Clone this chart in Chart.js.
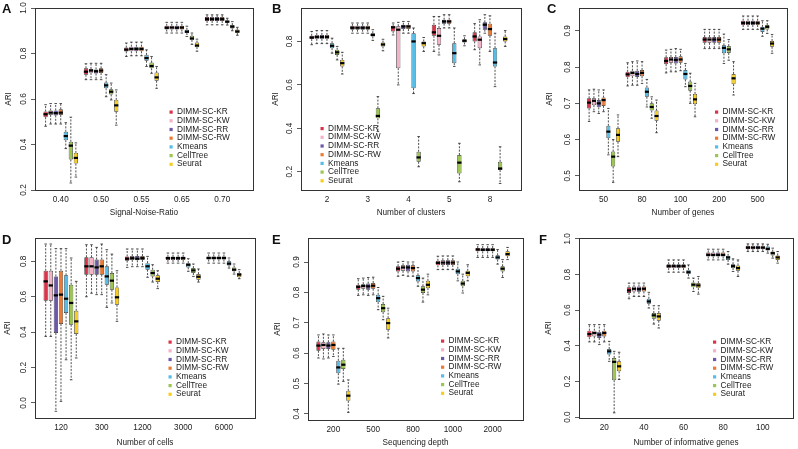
<!DOCTYPE html>
<html>
<head>
<meta charset="utf-8">
<script src="https://cdn.jsdelivr.net/npm/chart.js@4.4.0/dist/chart.umd.min.js"></script>
<style>
  html, body { margin: 0; padding: 0; background: #fff; }
  body { width: 798px; height: 449px; position: relative; overflow: hidden; }
  .cell { position: absolute; }
  .tag { position: absolute; font: bold 13px "Liberation Sans", Arial, sans-serif; color: #111; line-height: 13px; }
</style>
</head>
<body>
<div class="cell" style="left:0;top:0;width:265px;height:225px"><canvas id="cA"></canvas></div>
<div class="cell" style="left:265px;top:0;width:265px;height:225px"><canvas id="cB"></canvas></div>
<div class="cell" style="left:530px;top:0;width:268px;height:225px"><canvas id="cC"></canvas></div>
<div class="cell" style="left:0;top:225px;width:265px;height:224px"><canvas id="cD"></canvas></div>
<div class="cell" style="left:265px;top:225px;width:265px;height:224px"><canvas id="cE"></canvas></div>
<div class="cell" style="left:530px;top:225px;width:268px;height:224px"><canvas id="cF"></canvas></div>
<div class="tag" style="left:2px;top:2px">A</div>
<div class="tag" style="left:272px;top:2px">B</div>
<div class="tag" style="left:547px;top:2px">C</div>
<div class="tag" style="left:2px;top:233px">D</div>
<div class="tag" style="left:272px;top:233px">E</div>
<div class="tag" style="left:539px;top:233px">F</div>
<script>
// methods (one box per method inside each group)
const methods = ['DIMM-SC-KR', 'DIMM-SC-KW', 'DIMM-SC-RR', 'DIMM-SC-RW', 'Kmeans', 'CellTree', 'Seurat'];

// group labels per panel
const snrLabels = ['0.40', '0.50', '0.55', '0.65', '0.70'];
const clusterLabels = ['2', '3', '4', '5', '8'];
const geneLabels = ['50', '80', '100', '200', '500'];
const cellLabels = ['120', '300', '1200', '3000', '6000'];
const depthLabels = ['200', '500', '800', '1000', '2000'];
const infoLabels = ['20', '40', '60', '80', '100'];

// y tick values per panel
const snrTicks = [0.2, 0.4, 0.6, 0.8, 1.0];
const clusterTicks = [0.2, 0.4, 0.6, 0.8];
const geneTicks = [0.5, 0.6, 0.7, 0.8, 0.9];
const cellTicks = [0.0, 0.2, 0.4, 0.6, 0.8];
const depthTicks = [0.4, 0.5, 0.6, 0.7, 0.8, 0.9];
const infoTicks = [0.0, 0.2, 0.4, 0.6, 0.8, 1.0];

// box stats: one row per method, one [min, q1, median, q3, max] per group
const snrStats = [
  [[0.48,0.52,0.533,0.545,0.575],[0.685,0.707,0.72,0.735,0.755],[0.787,0.809,0.817,0.826,0.846],[0.89,0.905,0.913,0.922,0.937],[0.926,0.943,0.951,0.96,0.97]],
  [[0.49,0.53,0.54,0.55,0.58],[0.685,0.715,0.725,0.732,0.757],[0.79,0.81,0.82,0.83,0.85],[0.89,0.905,0.914,0.922,0.937],[0.926,0.943,0.951,0.96,0.97]],
  [[0.49,0.528,0.538,0.55,0.58],[0.685,0.712,0.722,0.73,0.757],[0.79,0.81,0.82,0.83,0.85],[0.89,0.905,0.913,0.922,0.937],[0.926,0.943,0.951,0.96,0.97]],
  [[0.49,0.53,0.54,0.555,0.58],[0.685,0.714,0.725,0.735,0.757],[0.79,0.81,0.82,0.83,0.85],[0.89,0.905,0.914,0.922,0.937],[0.926,0.943,0.951,0.96,0.97]],
  [[0.382,0.419,0.437,0.456,0.496],[0.61,0.647,0.66,0.672,0.707],[0.743,0.768,0.78,0.794,0.816],[0.875,0.89,0.896,0.904,0.92],[0.925,0.935,0.94,0.945,0.955]],
  [[0.231,0.334,0.395,0.412,0.52],[0.596,0.62,0.632,0.643,0.67],[0.713,0.735,0.745,0.76,0.787],[0.84,0.86,0.866,0.878,0.89],[0.9,0.91,0.918,0.925,0.94]],
  [[0.257,0.316,0.341,0.363,0.407],[0.485,0.544,0.572,0.596,0.64],[0.647,0.68,0.695,0.716,0.743],[0.81,0.828,0.835,0.848,0.863],[0.88,0.89,0.897,0.905,0.915]]
];
const clusterStats = [
  [[0.785,0.811,0.818,0.826,0.846],[0.838,0.854,0.863,0.872,0.885],[0.83,0.846,0.865,0.872,0.885],[0.754,0.826,0.842,0.877,0.915],[0.762,0.8,0.823,0.842,0.882]],
  [[0.79,0.812,0.82,0.83,0.85],[0.838,0.854,0.863,0.872,0.885],[0.6,0.677,0.854,0.87,0.888],[0.738,0.785,0.826,0.862,0.915],[0.692,0.769,0.808,0.823,0.9]],
  [[0.79,0.812,0.82,0.83,0.85],[0.838,0.854,0.863,0.872,0.885],[0.838,0.857,0.869,0.877,0.892],[0.862,0.882,0.892,0.9,0.923],[0.838,0.854,0.877,0.888,0.923]],
  [[0.79,0.812,0.82,0.83,0.85],[0.838,0.854,0.863,0.872,0.885],[0.838,0.857,0.869,0.877,0.892],[0.862,0.882,0.892,0.9,0.923],[0.754,0.826,0.857,0.882,0.918]],
  [[0.746,0.769,0.78,0.792,0.815],[0.805,0.823,0.83,0.838,0.854],[0.56,0.585,0.8,0.838,0.862],[0.685,0.7,0.746,0.792,0.862],[0.592,0.685,0.703,0.769,0.838]],
  [[0.715,0.738,0.75,0.762,0.777],[0.385,0.446,0.457,0.492,0.546],[0.223,0.246,0.266,0.292,0.362],[0.154,0.192,0.242,0.277,0.331],[0.146,0.208,0.215,0.246,0.315]],
  [[0.65,0.685,0.7,0.715,0.75],[0.757,0.777,0.786,0.795,0.81],[0.754,0.777,0.792,0.8,0.818],[0.78,0.795,0.803,0.81,0.826],[0.777,0.8,0.811,0.823,0.85]]
];
const geneStats = [
  [[0.65,0.686,0.702,0.714,0.737],[0.748,0.772,0.78,0.787,0.812],[0.784,0.808,0.817,0.827,0.847],[0.851,0.867,0.876,0.883,0.904],[0.904,0.916,0.922,0.928,0.941]],
  [[0.677,0.695,0.707,0.714,0.739],[0.75,0.775,0.784,0.79,0.815],[0.787,0.812,0.821,0.828,0.849],[0.851,0.867,0.876,0.883,0.904],[0.904,0.916,0.922,0.928,0.941]],
  [[0.672,0.689,0.7,0.709,0.737],[0.75,0.773,0.781,0.79,0.817],[0.787,0.81,0.82,0.828,0.851],[0.851,0.867,0.876,0.883,0.904],[0.904,0.916,0.922,0.928,0.941]],
  [[0.677,0.693,0.709,0.716,0.737],[0.755,0.775,0.784,0.792,0.815],[0.79,0.812,0.821,0.83,0.849],[0.851,0.867,0.876,0.883,0.904],[0.904,0.916,0.922,0.928,0.941]],
  [[0.558,0.604,0.622,0.638,0.686],[0.69,0.718,0.732,0.744,0.766],[0.746,0.766,0.781,0.792,0.81],[0.81,0.838,0.853,0.86,0.891],[0.885,0.897,0.906,0.911,0.928]],
  [[0.482,0.526,0.553,0.567,0.6],[0.659,0.68,0.69,0.7,0.718],[0.7,0.735,0.748,0.76,0.783],[0.819,0.839,0.849,0.858,0.876],[0.893,0.904,0.911,0.916,0.928]],
  [[0.553,0.594,0.613,0.631,0.668],[0.619,0.652,0.665,0.68,0.709],[0.663,0.698,0.711,0.726,0.755],[0.723,0.753,0.769,0.781,0.815],[0.838,0.856,0.865,0.872,0.89]]
];
const cellStats = [
  [[0.376,0.578,0.687,0.747,0.898],[0.6,0.725,0.772,0.823,0.894],[0.766,0.804,0.815,0.828,0.87],[0.79,0.808,0.819,0.826,0.847],[0.79,0.81,0.819,0.828,0.847]],
  [[0.376,0.578,0.664,0.747,0.898],[0.62,0.725,0.772,0.823,0.894],[0.77,0.808,0.818,0.83,0.87],[0.79,0.808,0.819,0.826,0.847],[0.79,0.81,0.819,0.828,0.847]],
  [[-0.047,0.395,0.608,0.715,0.872],[0.612,0.725,0.766,0.81,0.879],[0.77,0.806,0.815,0.83,0.87],[0.79,0.808,0.819,0.826,0.847],[0.79,0.81,0.819,0.828,0.847]],
  [[0.009,0.446,0.612,0.747,0.872],[0.612,0.725,0.772,0.81,0.898],[0.77,0.808,0.818,0.83,0.87],[0.79,0.808,0.819,0.826,0.847],[0.79,0.81,0.819,0.828,0.847]],
  [[0.244,0.508,0.589,0.721,0.872],[0.54,0.668,0.715,0.772,0.866],[0.71,0.753,0.772,0.79,0.828],[0.744,0.766,0.781,0.79,0.815],[0.762,0.777,0.787,0.8,0.819]],
  [[0.131,0.442,0.565,0.668,0.819],[0.565,0.64,0.691,0.734,0.841],[0.683,0.715,0.734,0.753,0.781],[0.715,0.734,0.749,0.762,0.785],[0.728,0.744,0.753,0.766,0.785]],
  [[0.254,0.39,0.461,0.521,0.687],[0.461,0.555,0.597,0.653,0.747],[0.646,0.683,0.702,0.721,0.747],[0.683,0.696,0.713,0.728,0.757],[0.702,0.711,0.725,0.734,0.753]]
];
const depthStats = [
  [[0.584,0.608,0.625,0.638,0.66],[0.79,0.809,0.818,0.825,0.845],[0.853,0.869,0.878,0.886,0.9],[0.875,0.889,0.897,0.904,0.919],[0.915,0.935,0.941,0.946,0.957]],
  [[0.581,0.614,0.627,0.636,0.663],[0.792,0.812,0.821,0.827,0.847],[0.856,0.871,0.882,0.889,0.902],[0.875,0.89,0.898,0.906,0.92],[0.915,0.935,0.94,0.946,0.957]],
  [[0.584,0.614,0.625,0.636,0.66],[0.79,0.809,0.82,0.829,0.849],[0.853,0.869,0.882,0.891,0.9],[0.875,0.89,0.898,0.906,0.92],[0.915,0.935,0.94,0.946,0.957]],
  [[0.589,0.611,0.627,0.638,0.66],[0.792,0.812,0.822,0.831,0.85],[0.853,0.869,0.88,0.889,0.9],[0.875,0.89,0.898,0.906,0.92],[0.915,0.935,0.94,0.946,0.957]],
  [[0.498,0.534,0.553,0.575,0.616],[0.743,0.768,0.781,0.792,0.816],[0.82,0.836,0.847,0.856,0.882],[0.838,0.86,0.869,0.878,0.9],[0.893,0.908,0.915,0.922,0.941]],
  [[0.507,0.548,0.562,0.578,0.616],[0.71,0.735,0.748,0.762,0.787],[0.768,0.798,0.809,0.82,0.847],[0.798,0.82,0.829,0.838,0.86],[0.849,0.869,0.878,0.886,0.908]],
  [[0.405,0.443,0.46,0.476,0.512],[0.65,0.677,0.699,0.715,0.748],[0.792,0.814,0.825,0.838,0.86],[0.838,0.853,0.864,0.871,0.891],[0.908,0.919,0.926,0.935,0.948]]
];
const infoStats = [
  [[0.422,0.448,0.466,0.485,0.519],[0.664,0.696,0.711,0.729,0.752],[0.813,0.836,0.847,0.858,0.882],[0.882,0.901,0.91,0.924,0.942],[0.929,0.942,0.951,0.961,0.972]],
  [[0.422,0.453,0.472,0.485,0.519],[0.677,0.705,0.72,0.733,0.752],[0.813,0.836,0.847,0.858,0.882],[0.882,0.901,0.91,0.924,0.942],[0.929,0.942,0.951,0.961,0.972]],
  [[0.407,0.444,0.463,0.478,0.519],[0.677,0.703,0.718,0.733,0.752],[0.813,0.836,0.847,0.858,0.882],[0.882,0.901,0.91,0.924,0.942],[0.929,0.942,0.951,0.961,0.972]],
  [[0.422,0.453,0.472,0.485,0.519],[0.677,0.705,0.72,0.733,0.752],[0.813,0.836,0.847,0.858,0.882],[0.882,0.901,0.91,0.924,0.942],[0.929,0.942,0.951,0.961,0.972]],
  [[0.313,0.351,0.369,0.382,0.425],[0.612,0.636,0.649,0.664,0.7],[0.78,0.802,0.813,0.826,0.854],[0.858,0.882,0.896,0.905,0.929],[0.92,0.935,0.944,0.957,0.97]],
  [[0.024,0.207,0.31,0.332,0.369],[0.522,0.552,0.571,0.584,0.625],[0.705,0.728,0.743,0.756,0.78],[0.817,0.836,0.847,0.858,0.888],[0.892,0.907,0.92,0.929,0.948]],
  [[0.211,0.257,0.285,0.313,0.364],[0.5,0.541,0.565,0.584,0.625],[0.69,0.724,0.739,0.752,0.789],[0.789,0.821,0.836,0.851,0.882],[0.864,0.882,0.896,0.907,0.929]]
];

const methodColors = ['#dc3349', '#f4b2c6', '#6c58a8', '#ec7a33', '#55bde8', '#9cc650', '#f9cd1e'];

Chart.defaults.font.family = '"Liberation Sans", Arial, sans-serif';
Chart.defaults.font.size = 8.2;
Chart.defaults.color = '#222';

// whiskers, staples and medians on top of the floating bars
const boxPlugin = {
  id: 'boxWhiskers',
  afterDatasetsDraw(chart) {
    const { ctx, scales: { y } } = chart;
    ctx.save();
    chart.data.datasets.forEach((ds, di) => {
      const meta = chart.getDatasetMeta(di);
      meta.data.forEach((bar, i) => {
        const s = ds.stats[i];
        const x = bar.x, w = bar.width;
        const py = v => y.getPixelForValue(v);
        ctx.strokeStyle = '#222';
        ctx.lineWidth = 0.8;
        ctx.setLineDash([2, 1.4]);
        ctx.beginPath();
        ctx.moveTo(x, py(s[3])); ctx.lineTo(x, py(s[4]));
        ctx.moveTo(x, py(s[1])); ctx.lineTo(x, py(s[0]));
        ctx.stroke();
        ctx.setLineDash([]);
        ctx.beginPath();
        ctx.moveTo(x - w * 0.3, py(s[4])); ctx.lineTo(x + w * 0.3, py(s[4]));
        ctx.moveTo(x - w * 0.3, py(s[0])); ctx.lineTo(x + w * 0.3, py(s[0]));
        ctx.stroke();
        ctx.strokeStyle = '#000';
        ctx.lineWidth = 2.2;
        ctx.beginPath();
        ctx.moveTo(x - w / 2, py(s[2])); ctx.lineTo(x + w / 2, py(s[2]));
        ctx.stroke();
      });
    });
    ctx.restore();
  }
};

// box frame around the plot region
const framePlugin = {
  id: 'frame',
  afterDraw(chart) {
    const { ctx, chartArea: a } = chart;
    ctx.save();
    ctx.strokeStyle = '#333';
    ctx.lineWidth = 1;
    ctx.strokeRect(Math.round(a.left) + 0.5, Math.round(a.top) + 0.5, Math.round(a.right - a.left), Math.round(a.bottom - a.top));
    ctx.restore();
  }
};

// in-plot legend
const keyPlugin = {
  id: 'key',
  afterDraw(chart, args, opts) {
    const { ctx } = chart;
    ctx.save();
    ctx.font = '8.3px "Liberation Sans", Arial, sans-serif';
    ctx.textBaseline = 'middle';
    chart.data.datasets.forEach((ds, i) => {
      const yy = opts.y + i * opts.dy;
      ctx.fillStyle = ds.backgroundColor;
      ctx.fillRect(opts.x - 1.5, yy - 1.5, 3.2, 3.2);
      ctx.fillStyle = '#222';
      ctx.fillText(ds.label, opts.x + 6, yy);
    });
    ctx.restore();
  }
};

const panels = [
  { id: 'cA', cats: snrLabels, stats: snrStats, ticks: snrTicks, yMin: 0.2, yMax: 1.0, xTitle: 'Signal-Noise-Ratio',
    cell: [0, 0, 265, 225], frame: [35, 8, 253, 190], ariX: 9, xTitleY: 212.5, key: [171, 112] },
  { id: 'cB', cats: clusterLabels, stats: clusterStats, ticks: clusterTicks, yMin: 0.116, yMax: 0.954, xTitle: 'Number of clusters',
    cell: [265, 0, 265, 225], frame: [301, 8, 521, 190], ariX: 276, xTitleY: 212.5, key: [322, 128.5] },
  { id: 'cC', cats: geneLabels, stats: geneStats, ticks: geneTicks, yMin: 0.461, yMax: 0.963, xTitle: 'Number of genes',
    cell: [530, 0, 268, 225], frame: [579, 8, 787, 190], ariX: 550, xTitleY: 212.5, key: [716.5, 112] },
  { id: 'cD', cats: cellLabels, stats: cellStats, ticks: cellTicks, yMin: -0.085, yMax: 0.932, xTitle: 'Number of cells',
    cell: [0, 225, 265, 224], frame: [35, 238, 255, 418], ariX: 8, xTitleY: 443, key: [170, 342] },
  { id: 'cE', cats: depthLabels, stats: depthStats, ticks: depthTicks, yMin: 0.38, yMax: 0.979, xTitle: 'Sequencing depth',
    cell: [265, 225, 265, 224], frame: [308, 238, 523, 420], ariX: 278, xTitleY: 443, key: [442.5, 341] },
  { id: 'cF', cats: infoLabels, stats: infoStats, ticks: infoTicks, yMin: -0.005, yMax: 1.005, xTitle: 'Number of informative genes',
    cell: [530, 225, 268, 224], frame: [579, 238, 793, 418], ariX: 549, xTitleY: 443, key: [714.5, 342] }
];

panels.forEach(p => {
  const [cx, cy, cw, ch] = p.cell;
  const [fl, ft, fr, fb] = p.frame;
  const datasets = methods.map((name, mi) => ({
    label: name,
    data: p.stats[mi].map((s, gi) => ({ x: gi * 8 + mi + 1, y: [s[1], s[3]] })),
    stats: p.stats[mi],
    backgroundColor: methodColors[mi],
    borderColor: '#2a2a2a',
    borderWidth: 0.7,
    borderSkipped: false,
    grouped: false,
    barPercentage: 0.84,
    categoryPercentage: 1
  }));

  new Chart(document.getElementById(p.id), {
    type: 'bar',
    data: { datasets },
    options: {
      responsive: true,
      maintainAspectRatio: false,
      animation: false,
      devicePixelRatio: 1,
      layout: { padding: { left: 0, top: ft - cy, right: cx + cw - fr, bottom: 0 } },
      plugins: {
        legend: { display: false },
        tooltip: { enabled: false },
        key: { x: p.key[0] - cx, y: p.key[1] - cy, dy: 8.7 }
      },
      scales: {
        x: {
          type: 'linear',
          min: -1.1,
          max: 42.1,
          offset: false,
          afterBuildTicks: s => { s.ticks = p.cats.map((c, i) => ({ value: i * 8 + 4 })); },
          afterFit: s => { s.height = cy + ch - fb; },
          ticks: { autoSkip: false, maxRotation: 0, padding: 5, callback: (v, i) => p.cats[i] },
          grid: { display: false, drawTicks: false },
          border: { display: false },
          title: { display: true, text: p.xTitle, padding: { top: 0, bottom: cy + ch - p.xTitleY - 4.9 } }
        },
        y: {
          min: p.yMin,
          max: p.yMax,
          stacked: false,
          afterBuildTicks: s => { s.ticks = p.ticks.map(v => ({ value: v })); },
          afterFit: s => { s.width = fl - cx; },
          ticks: { minRotation: 90, maxRotation: 90, crossAlign: 'center', padding: 2, callback: v => v.toFixed(1) },
          grid: { drawOnChartArea: false, drawTicks: true, tickLength: 4, color: '#333', lineWidth: 0.8 },
          border: { display: false },
          title: { display: true, text: 'ARI', padding: { top: p.ariX - cx - 4.9, bottom: 0 } }
        }
      }
    },
    plugins: [boxPlugin, framePlugin, keyPlugin]
  });
});
</script>
</body>
</html>
